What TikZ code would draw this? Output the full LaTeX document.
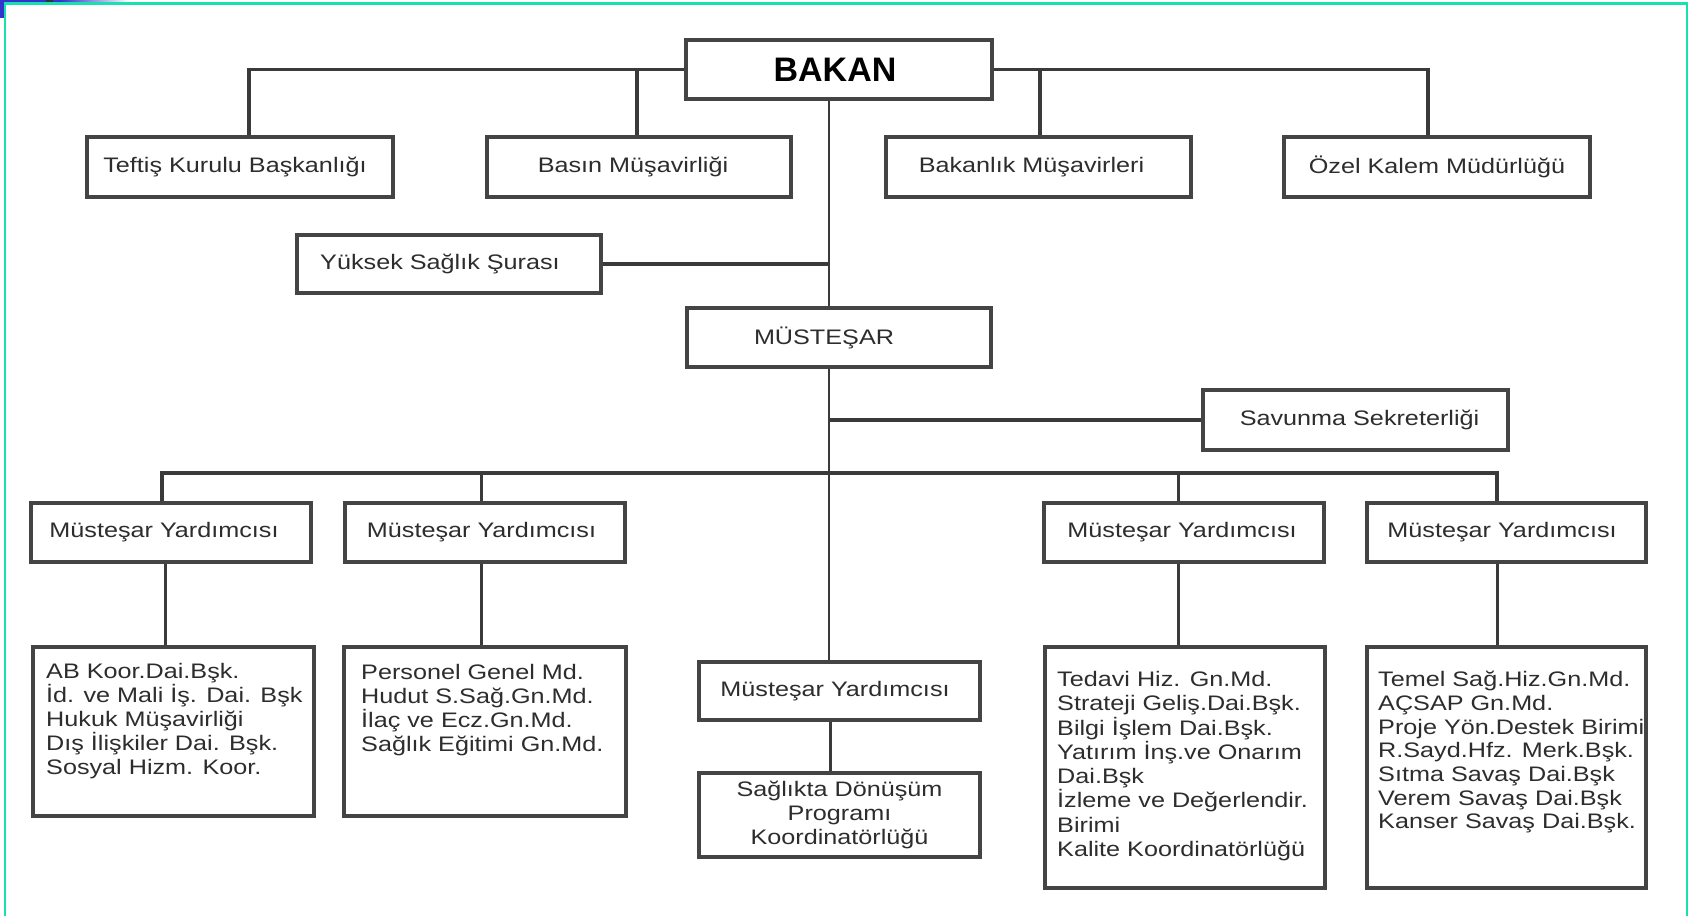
\documentclass[tikz,border=0pt]{standalone}
\usepackage{fontspec}
\setmainfont{Liberation Sans}[FakeStretch=1.2]
\newfontfamily\bakanfont{Liberation Sans}
\definecolor{teal1}{RGB}{24,224,176}
\definecolor{blu}{RGB}{52,52,204}
\definecolor{boxc}{RGB}{68,68,68}
\definecolor{linec}{RGB}{58,58,58}
\definecolor{txt}{RGB}{45,45,45}
\newcommand{\mvtxt}[2]{\kern#1\relax#2\kern-#1\relax}
\begin{document}
\begin{tikzpicture}[x=1pt,y=-1pt,
  box/.style={draw=boxc, line width=3.5pt, fill=white, inner sep=0pt, text=txt,
    font=\fontsize{21}{24}\selectfont, align=center},
  conn/.style={draw=linec, line width=3.5pt},
  lowconn/.style={draw=linec, line width=3pt},
  spine/.style={draw=linec, line width=2.2pt},
  ltxt/.style={anchor=north west, inner sep=0pt, align=left, text=txt,
    font=\fontsize{21}{24}\selectfont}]
\useasboundingbox (0,0) rectangle (1691,916);
\fill[white] (0,0) rectangle (1691,916);
% frame and corner artefact
\fill[blu] (0,0) rectangle (60,3);
\shade[left color=blu, right color=white] (60,0) rectangle (130,3);
\fill[blu] (0,0) rectangle (5,18);
\fill[black!80] (46,0) rectangle (53,2);
\draw[teal1, line width=2.5pt] (5,916) -- (5,3.5) -- (1687,3.5) -- (1687,916);

% top level
\node[box, minimum width=306pt, minimum height=59pt, text=black,
  font=\bakanfont\bfseries\fontsize{34}{38}\selectfont] (bakan) at (839,69.5) {\mvtxt{-4pt}{BAKAN}};
\node[box, minimum width=306pt, minimum height=60pt] (teftis) at (240,167) {\mvtxt{-5pt}{Teftiş Kurulu Başkanlığı}};
\node[box, minimum width=304pt, minimum height=60pt] (basin) at (639,167) {\mvtxt{-6pt}{Basın Müşavirliği}};
\node[box, minimum width=305pt, minimum height=60pt] (bakanlik) at (1038.5,167) {\mvtxt{-7pt}{Bakanlık Müşavirleri}};
\node[box, minimum width=306pt, minimum height=60pt] (ozel) at (1437,167) {Özel Kalem Müdürlüğü};
\node[box, minimum width=304pt, minimum height=58pt] (yuksek) at (449,264) {\mvtxt{-9pt}{Yüksek Sağlık Şurası}};
\node[box, minimum width=304pt, minimum height=59pt] (mustesar) at (839,337.5) {\mvtxt{-15pt}{MÜSTEŞAR}};
\node[box, minimum width=305pt, minimum height=60pt] (savunma) at (1355.5,420) {\mvtxt{4pt}{Savunma Sekreterliği}};

% deputies
\node[box, minimum width=280pt, minimum height=59pt] (my1) at (171,532.5) {\mvtxt{-7pt}{Müsteşar Yardımcısı}};
\node[box, minimum width=280pt, minimum height=59pt] (my2) at (485,532.5) {\mvtxt{-3.5pt}{Müsteşar Yardımcısı}};
\node[box, minimum width=280pt, minimum height=59pt] (my4) at (1184,532.5) {\mvtxt{-2pt}{Müsteşar Yardımcısı}};
\node[box, minimum width=279pt, minimum height=59pt] (my5) at (1506.5,532.5) {\mvtxt{-4.5pt}{Müsteşar Yardımcısı}};
\node[box, minimum width=281pt, minimum height=58pt] (my3) at (839.5,691) {\mvtxt{-4.5pt}{Müsteşar Yardımcısı}};

% lower boxes
\node[box, minimum width=281pt, minimum height=169pt] (ab) at (173.5,731.5) {};
\node[box, minimum width=282pt, minimum height=169pt] (pers) at (485,731.5) {};
\node[box, minimum width=281pt, minimum height=84pt] (sdp) at (839.5,815)
  {Sağlıkta Dönüşüm\\Programı\\Koordinatörlüğü};
\node[box, minimum width=280pt, minimum height=241pt] (ted) at (1185,767.5) {};
\node[box, minimum width=279pt, minimum height=241pt] (tem) at (1506.5,767.5) {};

\node[ltxt] (abt) at (46,663) {AB Koor.Dai.Bşk.\\İd. ve Mali İş. Dai. Bşk\\Hukuk Müşavirliği\\Dış İlişkiler Dai. Bşk.\\Sosyal Hizm. Koor.};
\node[ltxt] (perst) at (361,664) {Personel Genel Md.\\Hudut S.Sağ.Gn.Md.\\İlaç ve Ecz.Gn.Md.\\Sağlık Eğitimi Gn.Md.};
\node[ltxt, font=\fontsize{21}{24.3}\selectfont] (tedt) at (1057,671) {Tedavi Hiz. Gn.Md.\\Strateji Geliş.Dai.Bşk.\\Bilgi İşlem Dai.Bşk.\\Yatırım İnş.ve Onarım\\Dai.Bşk\\İzleme ve Değerlendir.\\Birimi\\Kalite Koordinatörlüğü};
\node[ltxt, font=\fontsize{21}{23.7}\selectfont] (temt) at (1378,671) {Temel Sağ.Hiz.Gn.Md.\\AÇSAP Gn.Md.\\Proje Yön.Destek Birimi\\R.Sayd.Hfz. Merk.Bşk.\\Sıtma Savaş Dai.Bşk\\Verem Savaş Dai.Bşk\\Kanser Savaş Dai.Bşk.};

% connectors
\draw[conn] (bakan.west) -| ([xshift=9pt]teftis.north);
\draw[conn] ([xshift=-2pt]basin.north) -- ([xshift=-2pt]basin.north |- bakan.west);
\draw[conn] (bakan.east) -| ([xshift=-9pt]ozel.north);
\draw[conn] ([xshift=1.5pt]bakanlik.north) -- ([xshift=1.5pt]bakanlik.north |- bakan.east);
\coordinate (sp) at ([xshift=-10pt]bakan.south);
\draw[spine] (sp) -- (sp |- mustesar.north);
\draw[conn] (yuksek.east) -- (yuksek.east -| sp);
\coordinate (sp2) at ([xshift=-10pt]mustesar.south);
\draw[spine] (sp2) -- (sp2 |- my3.north);
\draw[conn] (savunma.west) -- (savunma.west -| sp2);
\coordinate (bus) at (829,473);
\draw[conn] ([xshift=-9pt]my1.north) |- (bus) -| ([xshift=-9.5pt]my5.north);
\draw[lowconn] ([xshift=-4pt]my2.north) -- ([xshift=-4pt]my2.north |- bus);
\draw[lowconn] ([xshift=-6pt]my4.north) -- ([xshift=-6pt]my4.north |- bus);
\draw[lowconn] ([xshift=-6pt]my1.south) -- ([xshift=-6pt]my1.south |- ab.north);
\draw[lowconn] ([xshift=-4pt]my2.south) -- ([xshift=-4pt]my2.south |- pers.north);
\draw[lowconn] ([xshift=-6pt]my4.south) -- ([xshift=-6pt]my4.south |- ted.north);
\draw[lowconn] ([xshift=-9.5pt]my5.south) -- ([xshift=-9.5pt]my5.south |- tem.north);
\draw[lowconn] ([xshift=-9.5pt]my3.south) -- ([xshift=-9.5pt]my3.south |- sdp.north);
\end{tikzpicture}
\end{document}
